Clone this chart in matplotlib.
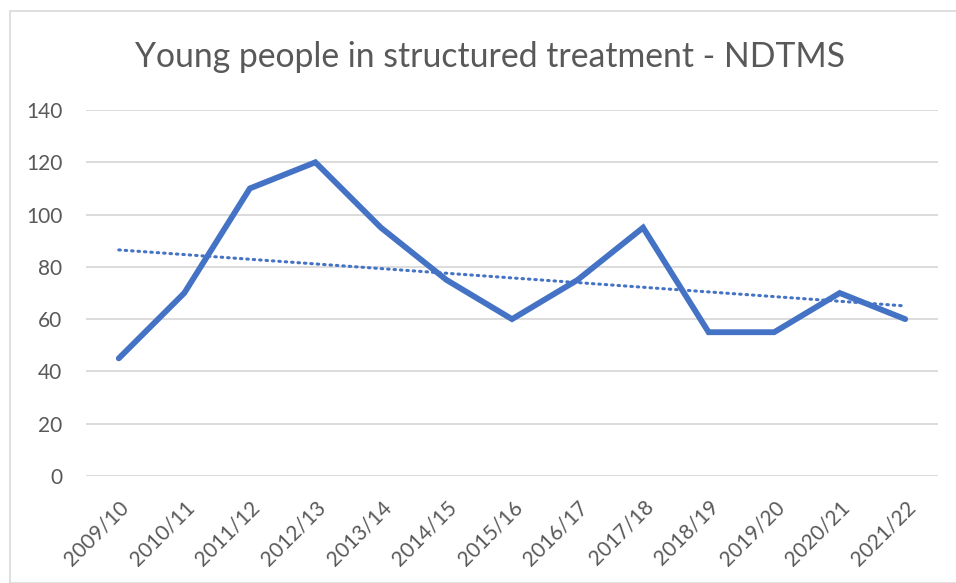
import numpy as np
import matplotlib
matplotlib.use("Agg")
import matplotlib.pyplot as plt
from matplotlib.patches import Rectangle

# Data
years = ["2009/10", "2010/11", "2011/12", "2012/13", "2013/14", "2014/15", "2015/16",
         "2016/17", "2017/18", "2018/19", "2019/20", "2020/21", "2021/22"]
young_people = [45, 70, 110, 120, 95, 75, 60, 75, 95, 55, 55, 70, 60]
y_ticks = [0, 20, 40, 60, 80, 100, 120, 140]

title = "Young people in structured treatment - NDTMS"
line_color = "#4472C4"
grid_color = "#D9D9D9"
text_color = "#595959"

plt.rcParams['font.family'] = ['Lato', 'DejaVu Sans']

fig = plt.figure(figsize=(9.56, 5.83), dpi=100)
fig.patch.set_facecolor("white")

# Chart frame
W, H = 956, 583
frame = Rectangle((10 / W, 0), 1, 1 - 11 / H, transform=fig.transFigure,
                  facecolor="none", edgecolor=grid_color, linewidth=1.2, clip_on=False)
fig.add_artist(frame)

ax = fig.add_axes([86 / W, 1 - 476 / H, (938 - 86) / W, (476 - 110) / H])

x = np.arange(len(years))
ax.plot(x, young_people, color=line_color, linewidth=4.2, solid_joinstyle="miter",
        solid_capstyle="round", zorder=3)

# Linear trendline
slope, intercept = np.polyfit(x, young_people, 1)
ax.plot(x, slope * x + intercept, color=line_color, linewidth=2.2,
        linestyle=(0, (0.5, 1.6)), dash_capstyle="round", zorder=2)

ax.set_xlim(-0.5, len(years) - 0.5)
ax.set_ylim(0, 140)
ax.set_yticks(y_ticks)
ax.set_xticks(x)
ax.set_xticklabels(years, rotation=45, ha="right", rotation_mode="anchor")
ax.grid(axis="y", color=grid_color, linewidth=1.3)
ax.set_axisbelow(True)
for s in ax.spines.values():
    s.set_visible(False)
ax.tick_params(axis="both", length=0, colors=text_color)
ax.tick_params(axis="y", pad=17, labelsize=15)
ax.tick_params(axis="x", pad=15, labelsize=15)

fig.text(490 / W, 1 - 57 / H, title, ha="center", va="center",
         fontsize=24.3, color=text_color)

fig.savefig("out.png", dpi=100)
